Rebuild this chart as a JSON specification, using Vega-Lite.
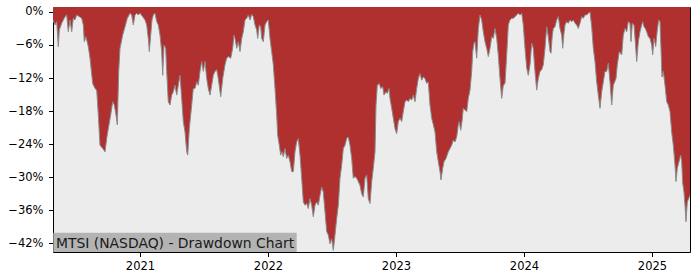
{
"$schema": "https://vega.github.io/schema/vega-lite/v6.json",
"width": 637, "height": 245,
"autosize": {"type": "none"},
"padding": {"left": 53, "top": 7, "right": 10, "bottom": 28},
"background": "white",
"config": {"view": {"fill": "#ececec", "stroke": "black", "strokeWidth": 1}, "font": "DejaVu Sans"},
"datasets": {"dd": [
{"t":2020.3203,"d":-1.45},{"t":2020.3359,"d":-2.36},{"t":2020.3492,"d":-1.76},{"t":2020.3617,"d":-6.3},{"t":2020.3695,"d":-3.27},{"t":2020.3883,"d":-2.06},{"t":2020.4141,"d":-0.85},{"t":2020.4273,"d":-0.55},{"t":2020.4398,"d":-3.58},{"t":2020.4531,"d":-1.45},{"t":2020.4664,"d":-3.58},{"t":2020.4789,"d":-1.15},{"t":2020.4922,"d":-1.45},{"t":2020.5055,"d":-0.55},{"t":2020.5258,"d":-0.85},{"t":2020.5445,"d":-1.15},{"t":2020.557,"d":-2.36},{"t":2020.5648,"d":-5.4},{"t":2020.5781,"d":-4.5},{"t":2020.5961,"d":-6.3},{"t":2020.6094,"d":-8.4},{"t":2020.6305,"d":-13.0},{"t":2020.6484,"d":-13.9},{"t":2020.6617,"d":-14.2},{"t":2020.6742,"d":-18.7},{"t":2020.6875,"d":-24.2},{"t":2020.7086,"d":-24.8},{"t":2020.7266,"d":-25.4},{"t":2020.7398,"d":-23.0},{"t":2020.7523,"d":-21.2},{"t":2020.7711,"d":-18.7},{"t":2020.7867,"d":-16.3},{"t":2020.7992,"d":-16.9},{"t":2020.8125,"d":-18.7},{"t":2020.8227,"d":-20.5},{"t":2020.8336,"d":-10.8},{"t":2020.8438,"d":-6.6},{"t":2020.8648,"d":-4.2},{"t":2020.8828,"d":-2.7},{"t":2020.9008,"d":-1.15},{"t":2020.9219,"d":-0.24},{"t":2020.9352,"d":-0.55},{"t":2020.9477,"d":-2.36},
{"t":2020.9609,"d":-0.55},{"t":2020.9742,"d":-0.24},{"t":2020.9867,"d":-0.55},{"t":2021.0,"d":-0.24},{"t":2021.0211,"d":-0.85},{"t":2021.0391,"d":-1.45},{"t":2021.0523,"d":-2.36},{"t":2021.0648,"d":-4.8},{"t":2021.0727,"d":-7.2},{"t":2021.0836,"d":-4.2},{"t":2021.0938,"d":-1.45},{"t":2021.1039,"d":-0.55},{"t":2021.1172,"d":-0.24},{"t":2021.1305,"d":-1.76},{"t":2021.143,"d":-2.36},{"t":2021.1563,"d":-4.2},{"t":2021.1695,"d":-7.2},{"t":2021.1773,"d":-11.5},{"t":2021.1875,"d":-6.0},{"t":2021.2008,"d":-6.6},{"t":2021.2086,"d":-10.8},{"t":2021.2211,"d":-16.3},{"t":2021.2344,"d":-16.9},{"t":2021.2477,"d":-15.1},{"t":2021.2602,"d":-14.5},{"t":2021.2734,"d":-13.3},{"t":2021.2867,"d":-15.1},{"t":2021.2992,"d":-13.3},{"t":2021.3125,"d":-11.5},{"t":2021.3258,"d":-15.7},{"t":2021.3383,"d":-19.9},{"t":2021.3516,"d":-21.8},{"t":2021.3648,"d":-25.4},{"t":2021.3727,"d":-26.0},{"t":2021.3852,"d":-21.2},{"t":2021.3961,"d":-18.7},{"t":2021.4039,"d":-16.9},{"t":2021.4164,"d":-13.9},{"t":2021.4297,"d":-13.9},{"t":2021.443,"d":-12.7},{"t":2021.4555,"d":-13.3},{"t":2021.4688,"d":-10.8},{"t":2021.482,"d":-9.0},{"t":2021.4945,"d":-10.8},{"t":2021.5078,"d":-9.0},{"t":2021.5211,"d":-12.1},{"t":2021.5336,"d":-13.9},{"t":2021.5469,"d":-15.1},
{"t":2021.5602,"d":-13.3},{"t":2021.5727,"d":-11.5},{"t":2021.5859,"d":-10.8},{"t":2021.5992,"d":-10.5},{"t":2021.6117,"d":-12.1},{"t":2021.6305,"d":-15.4},{"t":2021.6461,"d":-12.1},{"t":2021.6641,"d":-9.6},{"t":2021.6773,"d":-8.4},{"t":2021.6898,"d":-8.1},{"t":2021.7086,"d":-8.4},{"t":2021.7242,"d":-6.6},{"t":2021.7344,"d":-4.2},{"t":2021.7422,"d":-4.8},{"t":2021.7555,"d":-6.6},{"t":2021.768,"d":-5.4},{"t":2021.7813,"d":-7.2},{"t":2021.7945,"d":-4.8},{"t":2021.807,"d":-3.6},{"t":2021.8203,"d":-1.45},{"t":2021.8336,"d":-1.15},{"t":2021.8461,"d":-0.55},{"t":2021.8594,"d":-1.45},{"t":2021.8727,"d":-0.42},{"t":2021.8852,"d":-0.85},{"t":2021.8984,"d":-2.36},{"t":2021.9117,"d":-3.27},{"t":2021.9195,"d":-4.8},{"t":2021.932,"d":-2.36},{"t":2021.943,"d":-2.7},{"t":2021.9508,"d":-4.8},{"t":2021.9633,"d":-5.4},{"t":2021.9766,"d":-2.36},{"t":2021.9898,"d":-1.76},{"t":2022.0023,"d":-1.45},{"t":2022.0156,"d":-4.8},{"t":2022.0289,"d":-7.2},{"t":2022.0414,"d":-9.6},{"t":2022.0547,"d":-13.9},{"t":2022.068,"d":-18.7},{"t":2022.0758,"d":-22.4},{"t":2022.0883,"d":-24.2},{"t":2022.0992,"d":-26.0},{"t":2022.1094,"d":-25.4},{"t":2022.1195,"d":-26.3},{"t":2022.1328,"d":-24.8},{"t":2022.1461,"d":-26.6},{"t":2022.1586,"d":-26.0},{"t":2022.1719,"d":-27.2},{"t":2022.1852,"d":-29.0},
{"t":2022.1977,"d":-29.0},{"t":2022.2109,"d":-25.4},{"t":2022.2242,"d":-23.6},{"t":2022.2367,"d":-23.0},{"t":2022.25,"d":-26.0},{"t":2022.2633,"d":-30.2},{"t":2022.2758,"d":-34.5},{"t":2022.2891,"d":-35.1},{"t":2022.3023,"d":-34.8},{"t":2022.3148,"d":-35.7},{"t":2022.3281,"d":-33.9},{"t":2022.3414,"d":-35.1},{"t":2022.3539,"d":-37.2},{"t":2022.3672,"d":-35.1},{"t":2022.3805,"d":-34.5},{"t":2022.393,"d":-35.1},{"t":2022.4063,"d":-33.3},{"t":2022.4195,"d":-31.8},{"t":2022.432,"d":-32.7},{"t":2022.4453,"d":-36.3},{"t":2022.4586,"d":-39.9},{"t":2022.4711,"d":-40.5},{"t":2022.4844,"d":-42.1},{"t":2022.4977,"d":-41.2},{"t":2022.5102,"d":-43.3},{"t":2022.5234,"d":-40.5},{"t":2022.5367,"d":-37.5},{"t":2022.5492,"d":-35.1},{"t":2022.5625,"d":-30.2},{"t":2022.5758,"d":-27.8},{"t":2022.5883,"d":-24.8},{"t":2022.6016,"d":-24.2},{"t":2022.6148,"d":-23.0},{"t":2022.6273,"d":-22.7},{"t":2022.6406,"d":-24.2},{"t":2022.6539,"d":-26.6},{"t":2022.6664,"d":-30.2},{"t":2022.6797,"d":-29.9},{"t":2022.693,"d":-30.2},{"t":2022.7055,"d":-30.8},{"t":2022.7188,"d":-31.5},{"t":2022.732,"d":-33.0},{"t":2022.7445,"d":-33.6},{"t":2022.7578,"d":-30.2},{"t":2022.7711,"d":-29.6},{"t":2022.7836,"d":-33.9},{"t":2022.7969,"d":-34.8},
{"t":2022.8102,"d":-30.8},{"t":2022.8227,"d":-28.4},{"t":2022.8359,"d":-25.4},{"t":2022.8438,"d":-16.9},{"t":2022.8539,"d":-13.3},{"t":2022.8695,"d":-13.0},{"t":2022.8805,"d":-13.9},{"t":2022.8961,"d":-13.6},{"t":2022.9063,"d":-15.1},{"t":2022.9219,"d":-14.5},{"t":2022.932,"d":-14.8},{"t":2022.9453,"d":-13.9},{"t":2022.9531,"d":-15.7},{"t":2022.9664,"d":-17.5},{"t":2022.9789,"d":-19.3},{"t":2022.9922,"d":-21.2},{"t":2023.0055,"d":-22.1},{"t":2023.018,"d":-19.9},{"t":2023.0313,"d":-19.3},{"t":2023.0445,"d":-19.9},{"t":2023.057,"d":-18.1},{"t":2023.0703,"d":-16.3},{"t":2023.0836,"d":-16.0},{"t":2023.0961,"d":-16.3},{"t":2023.1094,"d":-15.7},{"t":2023.1227,"d":-16.0},{"t":2023.1352,"d":-15.1},{"t":2023.1484,"d":-16.3},{"t":2023.1617,"d":-13.9},{"t":2023.1742,"d":-12.1},{"t":2023.1875,"d":-11.2},{"t":2023.2008,"d":-12.4},{"t":2023.2133,"d":-11.8},{"t":2023.2266,"d":-12.1},{"t":2023.2398,"d":-13.0},{"t":2023.2523,"d":-12.7},{"t":2023.2656,"d":-16.9},{"t":2023.2789,"d":-19.3},{"t":2023.2914,"d":-20.5},{"t":2023.3047,"d":-21.8},{"t":2023.318,"d":-25.4},{"t":2023.3305,"d":-27.2},{"t":2023.3438,"d":-29.0},{"t":2023.3516,"d":-30.5},{"t":2023.3648,"d":-28.4},{"t":2023.375,"d":-27.2},{"t":2023.3906,"d":-26.6},{"t":2023.4086,"d":-25.4},{"t":2023.4219,"d":-24.8},
{"t":2023.4352,"d":-24.2},{"t":2023.4477,"d":-23.3},{"t":2023.4609,"d":-23.6},{"t":2023.4742,"d":-22.7},{"t":2023.4867,"d":-20.5},{"t":2023.4945,"d":-19.9},{"t":2023.5055,"d":-21.5},{"t":2023.5156,"d":-19.9},{"t":2023.5258,"d":-17.5},{"t":2023.5391,"d":-17.8},{"t":2023.5523,"d":-18.1},{"t":2023.5648,"d":-15.7},{"t":2023.5781,"d":-14.2},{"t":2023.5914,"d":-10.8},{"t":2023.5992,"d":-7.2},{"t":2023.6094,"d":-5.7},{"t":2023.6172,"d":-5.4},{"t":2023.6305,"d":-8.4},{"t":2023.643,"d":-3.0},{"t":2023.6563,"d":-0.55},{"t":2023.6695,"d":-1.45},{"t":2023.682,"d":-3.6},{"t":2023.6953,"d":-5.4},{"t":2023.7086,"d":-6.6},{"t":2023.7211,"d":-8.1},{"t":2023.7344,"d":-6.6},{"t":2023.7477,"d":-4.5},{"t":2023.7602,"d":-4.8},{"t":2023.7734,"d":-3.0},{"t":2023.7867,"d":-4.8},{"t":2023.7992,"d":-7.8},{"t":2023.8125,"d":-12.1},{"t":2023.8258,"d":-15.7},{"t":2023.8383,"d":-13.3},{"t":2023.8516,"d":-13.0},{"t":2023.8648,"d":-7.8},{"t":2023.8773,"d":-2.36},{"t":2023.8906,"d":-1.45},{"t":2023.9039,"d":-1.15},{"t":2023.9164,"d":-1.15},{"t":2023.9297,"d":-0.85},{"t":2023.943,"d":-0.55},{"t":2023.9555,"d":-0.24},{"t":2023.9688,"d":-0.55},{"t":2023.982,"d":-0.24},{"t":2023.9945,"d":-2.36},{"t":2024.0078,"d":-6.6},{"t":2024.0211,"d":-10.2},{"t":2024.0336,"d":-11.5},{"t":2024.0469,"d":-9.6},{"t":2024.0602,"d":-5.7},{"t":2024.0727,"d":-6.6},
{"t":2024.0859,"d":-10.8},{"t":2024.0992,"d":-14.2},{"t":2024.1117,"d":-12.1},{"t":2024.125,"d":-10.8},{"t":2024.1383,"d":-10.5},{"t":2024.1508,"d":-9.6},{"t":2024.1641,"d":-6.6},{"t":2024.1773,"d":-2.7},{"t":2024.1898,"d":-4.5},{"t":2024.2031,"d":-7.2},{"t":2024.2109,"d":-7.5},{"t":2024.2211,"d":-4.2},{"t":2024.2289,"d":-3.0},{"t":2024.2422,"d":-2.7},{"t":2024.2555,"d":-1.45},{"t":2024.268,"d":-0.85},{"t":2024.2813,"d":-3.0},{"t":2024.2945,"d":-4.2},{"t":2024.3023,"d":-6.6},{"t":2024.3125,"d":-3.9},{"t":2024.3203,"d":-2.36},{"t":2024.3336,"d":-1.76},{"t":2024.3461,"d":-2.06},{"t":2024.3594,"d":-1.45},{"t":2024.3727,"d":-1.76},{"t":2024.3852,"d":-1.45},{"t":2024.3984,"d":-2.06},{"t":2024.4117,"d":-2.36},{"t":2024.4242,"d":-3.0},{"t":2024.4375,"d":-2.06},{"t":2024.4508,"d":-0.85},{"t":2024.4633,"d":-1.15},{"t":2024.4766,"d":-0.55},{"t":2024.4898,"d":-0.55},{"t":2024.5023,"d":-0.24},{"t":2024.5156,"d":0},{"t":2024.5289,"d":-2.7},{"t":2024.5414,"d":-6.6},{"t":2024.5547,"d":-9.0},{"t":2024.568,"d":-12.7},{"t":2024.5805,"d":-15.1},{"t":2024.5938,"d":-17.5},{"t":2024.607,"d":-14.5},{"t":2024.6195,"d":-12.7},{"t":2024.6328,"d":-10.8},{"t":2024.6461,"d":-10.8},{"t":2024.6586,"d":-9.3},{"t":2024.6719,"d":-12.7},{"t":2024.6852,"d":-16.9},{"t":2024.6977,"d":-13.3},
{"t":2024.7188,"d":-12.1},{"t":2024.7289,"d":-9.6},{"t":2024.7445,"d":-7.2},{"t":2024.7633,"d":-7.8},{"t":2024.7758,"d":-4.2},{"t":2024.7891,"d":-3.0},{"t":2024.8023,"d":-3.6},{"t":2024.8148,"d":-1.76},{"t":2024.8281,"d":-2.06},{"t":2024.8359,"d":-5.4},{"t":2024.8461,"d":-2.06},{"t":2024.8594,"d":-2.36},{"t":2024.8695,"d":-5.4},{"t":2024.8805,"d":-9.0},{"t":2024.893,"d":-5.4},{"t":2024.9063,"d":-3.6},{"t":2024.9195,"d":-2.36},{"t":2024.9273,"d":-1.76},{"t":2024.9375,"d":-2.7},{"t":2024.9477,"d":-3.0},{"t":2024.9586,"d":-3.6},{"t":2024.9711,"d":-4.5},{"t":2024.9844,"d":-4.8},{"t":2024.9977,"d":-6.0},{"t":2025.0055,"d":-7.8},{"t":2025.0156,"d":-4.8},{"t":2025.0289,"d":-6.3},{"t":2025.0414,"d":-3.27},{"t":2025.0523,"d":-1.45},{"t":2025.0625,"d":-1.76},{"t":2025.0703,"d":-6.6},{"t":2025.0781,"d":-11.8},{"t":2025.0883,"d":-10.8},{"t":2025.1016,"d":-13.3},{"t":2025.1148,"d":-16.3},{"t":2025.1273,"d":-16.9},{"t":2025.1406,"d":-18.1},{"t":2025.1539,"d":-21.8},{"t":2025.1664,"d":-24.2},{"t":2025.1797,"d":-27.8},{"t":2025.1875,"d":-30.8},{"t":2025.1977,"d":-28.4},{"t":2025.2109,"d":-27.2},{"t":2025.2242,"d":-26.0},{"t":2025.232,"d":-27.2},{"t":2025.2398,"d":-31.1},{"t":2025.25,"d":-32.7},{"t":2025.2578,"d":-35.1},{"t":2025.2656,"d":-38.1},{"t":2025.2758,"d":-34.5},{"t":2025.2867,"d":-33.9},{"t":2025.2969,"d":-33.3}
],
"label": [{"label": "MTSI (NASDAQ) - Drawdown Chart", "x0": 2020.3227, "x1": 2022.2242, "y0": -40.1, "y1": -43.6, "tx": 2020.3438, "ty": -42.8}]},
"encoding": {
  "x": {"type": "quantitative",
        "scale": {"domain": [2020.3203, 2025.2969], "nice": false, "zero": false},
        "axis": {"values": [2021, 2022, 2023, 2024, 2025], "format": "d", "title": null, "grid": false, "domain": false, "labelOverlap": false,
                 "tickSize": 4.5, "tickColor": "black", "labelFontSize": 11.5, "labelColor": "black", "labelPadding": 4, "labelFont": "DejaVu Sans"}},
  "y": {"type": "quantitative",
        "scale": {"domain": [-43.6, 0.9], "nice": false, "zero": false},
        "axis": {"values": [0, -6, -12, -18, -24, -30, -36, -42], "labelExpr": "format(datum.value, 'd') + '%'", "title": null, "grid": false, "domain": false, "labelOverlap": false,
                 "tickSize": 4.5, "tickColor": "black", "labelFontSize": 11.5, "labelColor": "black", "labelPadding": 5.5, "labelFont": "DejaVu Sans"}}
},
"layer": [
  {"data": {"name": "dd"},
   "mark": {"type": "area", "color": "#b03030", "opacity": 1, "clip": true},
   "encoding": {"x": {"field": "t"}, "y": {"field": "d"}, "y2": {"datum": 0.9}}},
  {"data": {"name": "dd"},
   "mark": {"type": "line", "color": "#8a8a8a", "strokeWidth": 1, "clip": true},
   "encoding": {"x": {"field": "t"}, "y": {"field": "d"}}},
  {"data": {"name": "label"},
   "mark": {"type": "rect", "color": "#b3b3b3", "opacity": 1},
   "encoding": {"x": {"field": "x0"}, "x2": {"field": "x1"}, "y": {"field": "y0"}, "y2": {"field": "y1"}}},
  {"data": {"name": "label"},
   "mark": {"type": "text", "align": "left", "baseline": "alphabetic", "fontSize": 13.9, "color": "#1a1a1a", "font": "DejaVu Sans"},
   "encoding": {"x": {"field": "tx"}, "y": {"field": "ty"}, "text": {"field": "label"}}}
]
}
